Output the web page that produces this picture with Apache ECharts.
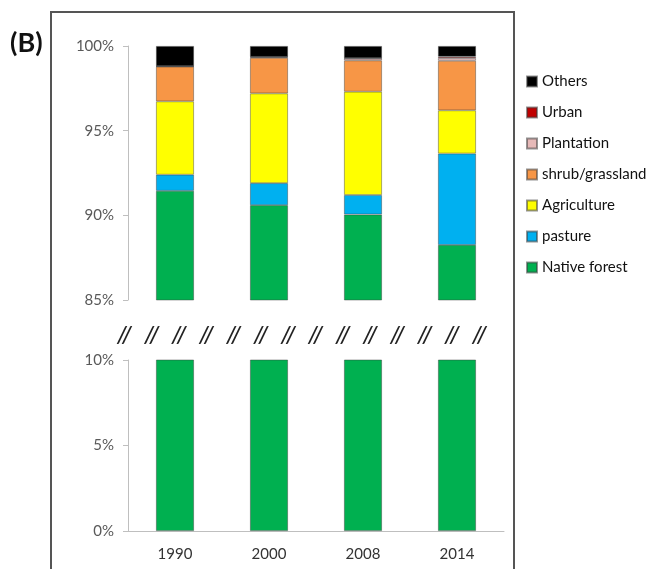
<!DOCTYPE html>
<html>
<head>
<meta charset="utf-8">
<script src="https://cdn.jsdelivr.net/npm/echarts@6/dist/echarts.min.js"></script>
<style>
  html, body { margin: 0; padding: 0; background: #fff; }
  #chart { width: 649px; height: 569px; }
</style>
</head>
<body>
<div id="chart"></div>
<script>
// land cover share (%) per year
const years = ['1990', '2000', '2008', '2014'];
const nativeForest = [91.45, 90.6, 90.05, 88.25];
const pasture = [0.95, 1.3, 1.15, 5.4];
const agriculture = [4.33, 5.3, 6.1, 2.55];
const shrubGrassland = [2.05, 2.1, 1.85, 2.93];
const plantation = [0.02, 0.05, 0.12, 0.16];
const urban = [0.01, 0.01, 0.01, 0.08];
const others = [1.19, 0.64, 0.72, 0.63];

// tick labels of the two halves of the broken axis
const upperTicks = [85, 90, 95, 100];
const lowerTicks = [0, 5, 10];

const font = 'Lato';
const edge = { borderColor: 'rgba(60,60,60,0.55)', borderWidth: 0.8 };

const layers = [
    { name: 'Native forest', data: nativeForest, color: '#00b050' },
    { name: 'pasture', data: pasture, color: '#00b0f0' },
    { name: 'Agriculture', data: agriculture, color: '#ffff00' },
    { name: 'shrub/grassland', data: shrubGrassland, color: '#f79646' },
    { name: 'Plantation', data: plantation, color: '#e6b9b8' },
    { name: 'Urban', data: urban, color: '#c00000' },
    { name: 'Others', data: others, color: '#000000' }
];

let series = layers.map(l => ({
    name: l.name,
    type: 'bar',
    stack: 'upper',
    xAxisIndex: 0,
    yAxisIndex: 0,
    barWidth: 38,
    data: l.data,
    itemStyle: Object.assign({ color: l.color }, edge)
}));
// lower half only shows the bottom of the forest bars
series.push({
    name: 'Native forest',
    type: 'bar',
    xAxisIndex: 1,
    yAxisIndex: 1,
    barWidth: 38,
    data: nativeForest,
    clip: true,
    itemStyle: Object.assign({ color: '#00b050' }, edge)
});

// "//" break marks between the two panels
let breaks = [];
for (let i = 0; i < 14; i++) {
    breaks.push({
        type: 'text',
        left: 117 + i * 27.3,
        top: 324,
        style: { text: '//', font: 'italic 600 23px ' + font, fill: '#222' }
    });
}

const axisGray = '#bfbfbf';
const yLabel = { formatter: '{value}%', fontFamily: font, fontSize: 15, color: '#595959', margin: 14 };

let option = {
    animation: false,
    grid: [
        { left: 128, right: 145, top: 46, height: 254 },
        { left: 128, right: 145, top: 360, height: 171 }
    ],
    xAxis: [
        { type: 'category', gridIndex: 0, data: years, show: false },
        {
            type: 'category', gridIndex: 1, data: years,
            axisLine: { lineStyle: { color: axisGray } },
            axisTick: { lineStyle: { color: axisGray }, length: 6 },
            axisLabel: { fontFamily: font, fontSize: 15, color: '#333', margin: 16 }
        }
    ],
    yAxis: [
        {
            type: 'value', gridIndex: 0,
            min: upperTicks[0], max: upperTicks[upperTicks.length - 1], interval: 5,
            splitLine: { show: false },
            axisLine: { show: true, lineStyle: { color: axisGray } },
            axisTick: { show: true, length: 5, lineStyle: { color: axisGray } },
            axisLabel: yLabel
        },
        {
            type: 'value', gridIndex: 1,
            min: lowerTicks[0], max: lowerTicks[lowerTicks.length - 1], interval: 5,
            splitLine: { show: false },
            axisLine: { show: true, lineStyle: { color: axisGray } },
            axisTick: { show: true, length: 5, lineStyle: { color: axisGray } },
            axisLabel: yLabel
        }
    ],
    legend: {
        orient: 'vertical',
        left: 521,
        top: 69,
        itemWidth: 10,
        itemHeight: 10,
        itemGap: 16,
        icon: 'rect',
        data: ['Others', 'Urban', 'Plantation', 'shrub/grassland', 'Agriculture', 'pasture', 'Native forest'],
        textStyle: { fontFamily: font, fontSize: 15, color: '#111' }
    },
    graphic: [
        {
            type: 'rect',
            shape: { x: 51, y: 12, width: 463, height: 580 },
            style: { fill: 'none', stroke: '#555', lineWidth: 2 }
        },
        {
            type: 'text', left: 10, top: 30,
            style: { text: '(B)', font: 'bold 27px ' + font, fill: '#111' }
        }
    ].concat(breaks),
    series: series
};

let chart = echarts.init(document.getElementById('chart'));
chart.setOption(option);
</script>
</body>
</html>
